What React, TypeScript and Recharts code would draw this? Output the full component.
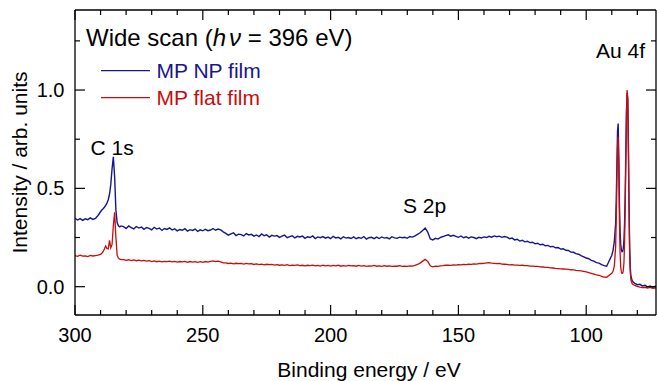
import React from 'react';
import { LineChart, Line, XAxis, YAxis } from 'recharts';

// binding energy grid (eV)
const energy = [
  300, 299, 298, 297, 296, 295, 294, 293, 292, 291, 290,
  289.5, 289, 288.5, 288, 287.5, 287, 286.5, 286, 285.5, 285, 284.5, 284, 283.5, 283, 282.5, 282,
  281, 280, 279, 278, 277, 276, 275, 274, 273, 272,
  271, 270, 269, 268, 267, 266, 265, 264, 263, 262,
  261, 260, 259, 258, 257, 256, 255, 254, 253, 252,
  251, 250, 249, 248, 247, 246, 245, 244, 243, 242,
  241, 240, 239, 238, 237, 236, 235, 234, 233, 232,
  231, 230, 229, 228, 227, 226, 225, 224, 223, 222,
  221, 220, 219, 218, 217, 216, 215, 214, 213, 212,
  211, 210, 209, 208, 207, 206, 205, 204, 203, 202,
  201, 200, 199, 198, 197, 196, 195, 194, 193, 192,
  191, 190, 189, 188, 187, 186, 185, 184, 183, 182,
  181, 180, 179, 178, 177, 176, 175, 174, 173, 172,
  171, 170, 169, 168, 167, 166, 165, 164, 163, 162,
  161, 160, 159, 158, 157, 156, 155, 154, 153, 152,
  151, 150, 149, 148, 147, 146, 145, 144, 143, 142,
  141, 140, 139, 138, 137, 136, 135, 134, 133, 132,
  131, 130, 129, 128, 127, 126, 125, 124, 123, 122,
  121, 120, 119, 118, 117, 116, 115, 114, 113, 112,
  111, 110, 109, 108, 107, 106, 105, 104, 103, 102,
  101, 100, 99, 98, 97, 96,
  95, 94, 93, 92, 91, 90.5, 90, 89.5, 89, 88.5,
  88.25, 88, 87.75, 87.5, 87.25, 87, 86.75, 86.5, 86.25, 86, 85.75, 85.5,
  85.25, 85, 84.75, 84.5, 84.25, 84, 83.75, 83.5, 83.25, 83, 82.75, 82.5,
  82, 81.5, 81, 80, 79, 78, 77, 76, 75, 74, 73, 72.7,
];

// MP NP film (blue)
const npFilm = [
  0.348, 0.339, 0.346, 0.337, 0.345, 0.341, 0.350, 0.342, 0.347, 0.362, 0.381,
  0.390, 0.396, 0.404, 0.413, 0.425, 0.442, 0.47, 0.52, 0.60, 0.66, 0.56, 0.39, 0.325, 0.31, 0.304, 0.309,
  0.305, 0.296, 0.309, 0.300, 0.294, 0.306, 0.298, 0.303, 0.292, 0.301,
  0.297, 0.289, 0.302, 0.293, 0.298, 0.286, 0.296, 0.291, 0.299, 0.288,
  0.294, 0.284, 0.291, 0.287, 0.295, 0.283, 0.290, 0.286, 0.293, 0.281,
  0.289, 0.284, 0.292, 0.285, 0.288, 0.296, 0.287, 0.293, 0.289, 0.279,
  0.271, 0.262, 0.269, 0.274, 0.260, 0.267, 0.265, 0.258, 0.270, 0.263,
  0.266, 0.257, 0.263, 0.255, 0.268, 0.259, 0.264, 0.252, 0.261, 0.257,
  0.260, 0.251, 0.257, 0.262, 0.249, 0.255, 0.259, 0.248, 0.256, 0.253,
  0.257, 0.246, 0.254, 0.250, 0.258, 0.245, 0.253, 0.249, 0.255, 0.247,
  0.252, 0.244, 0.256, 0.248, 0.251, 0.243, 0.254, 0.247, 0.250, 0.245,
  0.253, 0.244, 0.250, 0.246, 0.255, 0.242, 0.249, 0.251, 0.244, 0.252,
  0.245, 0.253, 0.247, 0.250, 0.243, 0.254, 0.248, 0.246, 0.252, 0.249,
  0.251, 0.246, 0.255, 0.252, 0.258, 0.266, 0.274, 0.286, 0.298, 0.278,
  0.243, 0.238, 0.246, 0.242, 0.251, 0.255, 0.260, 0.264, 0.257, 0.261,
  0.256, 0.251, 0.258, 0.249, 0.254, 0.247, 0.253, 0.250, 0.244, 0.251,
  0.248, 0.253, 0.250, 0.256, 0.252, 0.258, 0.254, 0.257, 0.251, 0.255,
  0.252, 0.244, 0.247, 0.238, 0.241, 0.232, 0.236, 0.228, 0.231, 0.224,
  0.226, 0.218, 0.221, 0.213, 0.216, 0.208, 0.210, 0.203, 0.205, 0.198,
  0.199, 0.191, 0.193, 0.185, 0.184, 0.176, 0.175, 0.168, 0.165, 0.158,
  0.152, 0.146, 0.142, 0.134, 0.130, 0.122,
  0.120, 0.112, 0.107, 0.104, 0.132, 0.145, 0.160, 0.185, 0.23, 0.32,
  0.44, 0.62, 0.79, 0.83, 0.66, 0.42, 0.28, 0.215, 0.188, 0.178, 0.18, 0.195,
  0.235, 0.32, 0.47, 0.68, 0.89, 0.985, 0.95, 0.72, 0.42, 0.20, 0.095, 0.052,
  0.030, 0.022, 0.017, 0.010, 0.012, 0.004, 0.007, -0.001, 0.004, -0.003, 0.002, -0.002,
];

// MP flat film (red)
const flatFilm = [
  0.158, 0.154, 0.160, 0.155, 0.157, 0.153, 0.159, 0.156, 0.158, 0.160, 0.164,
  0.170, 0.178, 0.192, 0.207, 0.194, 0.192, 0.236, 0.198, 0.215, 0.31, 0.378, 0.25, 0.16, 0.145, 0.140, 0.138,
  0.138, 0.134, 0.137, 0.133, 0.136, 0.132, 0.135, 0.131, 0.134, 0.130,
  0.132, 0.128, 0.131, 0.127, 0.130, 0.126, 0.129, 0.127, 0.130, 0.126,
  0.129, 0.125, 0.128, 0.126, 0.129, 0.124, 0.128, 0.125, 0.127, 0.124,
  0.127, 0.124, 0.128, 0.125, 0.129, 0.131, 0.128, 0.130, 0.126, 0.121,
  0.121, 0.118, 0.120, 0.116, 0.119, 0.117, 0.118, 0.115, 0.118, 0.116,
  0.117, 0.113, 0.116, 0.112, 0.115, 0.111, 0.114, 0.112, 0.113, 0.110,
  0.112, 0.109, 0.111, 0.108, 0.112, 0.107, 0.110, 0.108, 0.111, 0.107,
  0.109, 0.106, 0.109, 0.107, 0.110, 0.106, 0.108, 0.105, 0.109, 0.106,
  0.108, 0.105, 0.108, 0.106, 0.109, 0.104, 0.107, 0.105, 0.108, 0.106,
  0.107, 0.104, 0.108, 0.105, 0.107, 0.103, 0.106, 0.105, 0.108, 0.104,
  0.106, 0.103, 0.107, 0.104, 0.106, 0.103, 0.105, 0.104, 0.107, 0.103,
  0.105, 0.103, 0.106, 0.105, 0.108, 0.113, 0.120, 0.130, 0.139, 0.128,
  0.106, 0.101, 0.104, 0.103, 0.106, 0.107, 0.109, 0.110, 0.108, 0.111,
  0.110, 0.112, 0.111, 0.113, 0.112, 0.114, 0.113, 0.116, 0.115, 0.117,
  0.118, 0.119, 0.121, 0.122, 0.120, 0.119, 0.117, 0.118, 0.115, 0.114,
  0.113, 0.111, 0.112, 0.110, 0.110, 0.108, 0.109, 0.107, 0.107, 0.105,
  0.105, 0.103, 0.103, 0.101, 0.100, 0.098, 0.098, 0.096, 0.095, 0.093,
  0.092, 0.091, 0.090, 0.089, 0.088, 0.086, 0.085, 0.083, 0.082, 0.080,
  0.078, 0.075, 0.072, 0.068, 0.064, 0.060,
  0.058, 0.052, 0.049, 0.048, 0.058, 0.063, 0.068, 0.078, 0.105, 0.20,
  0.34, 0.54, 0.71, 0.762, 0.60, 0.34, 0.17, 0.10, 0.075, 0.067, 0.068, 0.08,
  0.12, 0.22, 0.40, 0.64, 0.88, 1.0, 0.96, 0.70, 0.38, 0.16, 0.07, 0.035,
  0.015, 0.010, 0.007, 0.002, -0.002, -0.005, -0.003, -0.007, -0.004, -0.008, -0.006, -0.008,
];

const xTicks = [300, 290, 280, 270, 260, 250, 240, 230, 220, 210, 200, 190, 180, 170, 160, 150, 140, 130, 120, 110, 100, 90, 80];
const xLabels = [300, 250, 200, 150, 100];
const yTicks = [0, 0.25, 0.5, 0.75, 1.0, 1.25];
const yLabels = [0, 0.5, 1.0];

const data = energy.map((e, i) => ({ e, np: npFilm[i], flat: flatFilm[i] }));

const FONT = '"Liberation Sans", Arial, sans-serif';
const BLUE = '#16168e';
const RED = '#c80c0c';

const BottomTick = (props: any) => {
  const { x, y, payload } = props;
  const major = xLabels.includes(payload.value);
  return (
    <g>
      <line x1={x} y1={y} x2={x} y2={y - (major ? 10 : 5)} stroke="#000" strokeWidth={1.2} />
      {major && (
        <text x={x} y={y + 27} textAnchor="middle" fontSize={20} fontFamily={FONT} fill="#000">
          {payload.value}
        </text>
      )}
    </g>
  );
};

const TopTick = (props: any) => {
  const { x, y, payload } = props;
  const major = xLabels.includes(payload.value);
  return <line x1={x} y1={y} x2={x} y2={y + (major ? 10 : 5)} stroke="#000" strokeWidth={1.2} />;
};

const LeftTick = (props: any) => {
  const { x, y, payload } = props;
  const major = yLabels.includes(payload.value);
  return (
    <g>
      <line x1={x} y1={y} x2={x + (major ? 10 : 5)} y2={y} stroke="#000" strokeWidth={1.2} />
      {major && (
        <text x={x - 10.5} y={y + 7} textAnchor="end" fontSize={20} fontFamily={FONT} fill="#000">
          {payload.value.toFixed(1)}
        </text>
      )}
    </g>
  );
};

const RightTick = (props: any) => {
  const { x, y, payload } = props;
  const major = yLabels.includes(payload.value);
  return <line x1={x} y1={y} x2={x - (major ? 10 : 5)} y2={y} stroke="#000" strokeWidth={1.2} />;
};

export default function App() {
  const axisLine = { stroke: '#000', strokeWidth: 1.3 };
  return (
    <div style={{ position: 'absolute', left: 0, top: 0, width: 657, height: 381, background: '#fff', fontFamily: FONT }}>
      <LineChart width={657} height={381} data={data} margin={{ top: 0, right: 0, bottom: 0, left: 0 }}>
        <XAxis
          xAxisId="b"
          type="number"
          dataKey="e"
          domain={[72.7, 300]}
          reversed
          allowDataOverflow
          ticks={xTicks}
          interval={0}
          tickLine={false}
          tickSize={0}
          tickMargin={0}
          tick={<BottomTick />}
          axisLine={axisLine}
          height={66}
        />
        <XAxis
          xAxisId="t"
          orientation="top"
          type="number"
          dataKey="e"
          domain={[72.7, 300]}
          reversed
          allowDataOverflow
          ticks={xTicks}
          interval={0}
          tickLine={false}
          tickSize={0}
          tickMargin={0}
          tick={<TopTick />}
          axisLine={axisLine}
          height={10}
        />
        <YAxis
          yAxisId="l"
          type="number"
          domain={[-0.144, 1.407]}
          allowDataOverflow
          ticks={yTicks}
          interval={0}
          tickLine={false}
          tickSize={0}
          tickMargin={0}
          tick={<LeftTick />}
          axisLine={axisLine}
          width={75}
        />
        <YAxis
          yAxisId="r"
          orientation="right"
          type="number"
          domain={[-0.144, 1.407]}
          allowDataOverflow
          ticks={yTicks}
          interval={0}
          tickLine={false}
          tickSize={0}
          tickMargin={0}
          tick={<RightTick />}
          axisLine={axisLine}
          width={1}
        />
        <Line xAxisId="b" yAxisId="l" type="linear" dataKey="np" stroke={BLUE} strokeWidth={1.4} dot={false} isAnimationActive={false} />
        <Line xAxisId="b" yAxisId="l" type="linear" dataKey="flat" stroke={RED} strokeWidth={1.3} dot={false} isAnimationActive={false} />
      </LineChart>
      <svg
        width={657}
        height={381}
        style={{ position: 'absolute', left: 0, top: 0, pointerEvents: 'none' }}
        fontFamily={FONT}
      >
        <text x={86} y={46} fontSize={24} fill="#000">
          Wide scan (<tspan fontStyle="italic">h</tspan>
          <tspan fontStyle="italic" dx={3}>ν</tspan> = 396 eV)
        </text>
        <line x1={101} y1={70.7} x2={150} y2={70.7} stroke={BLUE} strokeWidth={1.3} />
        <text x={156.5} y={78} fontSize={21} fill={BLUE}>MP NP film</text>
        <line x1={101} y1={97.7} x2={150} y2={97.7} stroke={RED} strokeWidth={1.3} />
        <text x={156.5} y={105} fontSize={21} fill={RED}>MP flat film</text>
        <text x={90.5} y={155} fontSize={21} fill="#000">C 1s</text>
        <text x={403} y={213} fontSize={21} fill="#000">S 2p</text>
        <text x={596} y={58} fontSize={21} fill="#000">Au 4f</text>
        <text x={369} y={377} fontSize={21} textAnchor="middle" fill="#000">Binding energy / eV</text>
        <text x={27} y={162.5} fontSize={21} textAnchor="middle" fill="#000" transform="rotate(-90 27 162.5)">
          Intensity / arb. units
        </text>
      </svg>
    </div>
  );
}
